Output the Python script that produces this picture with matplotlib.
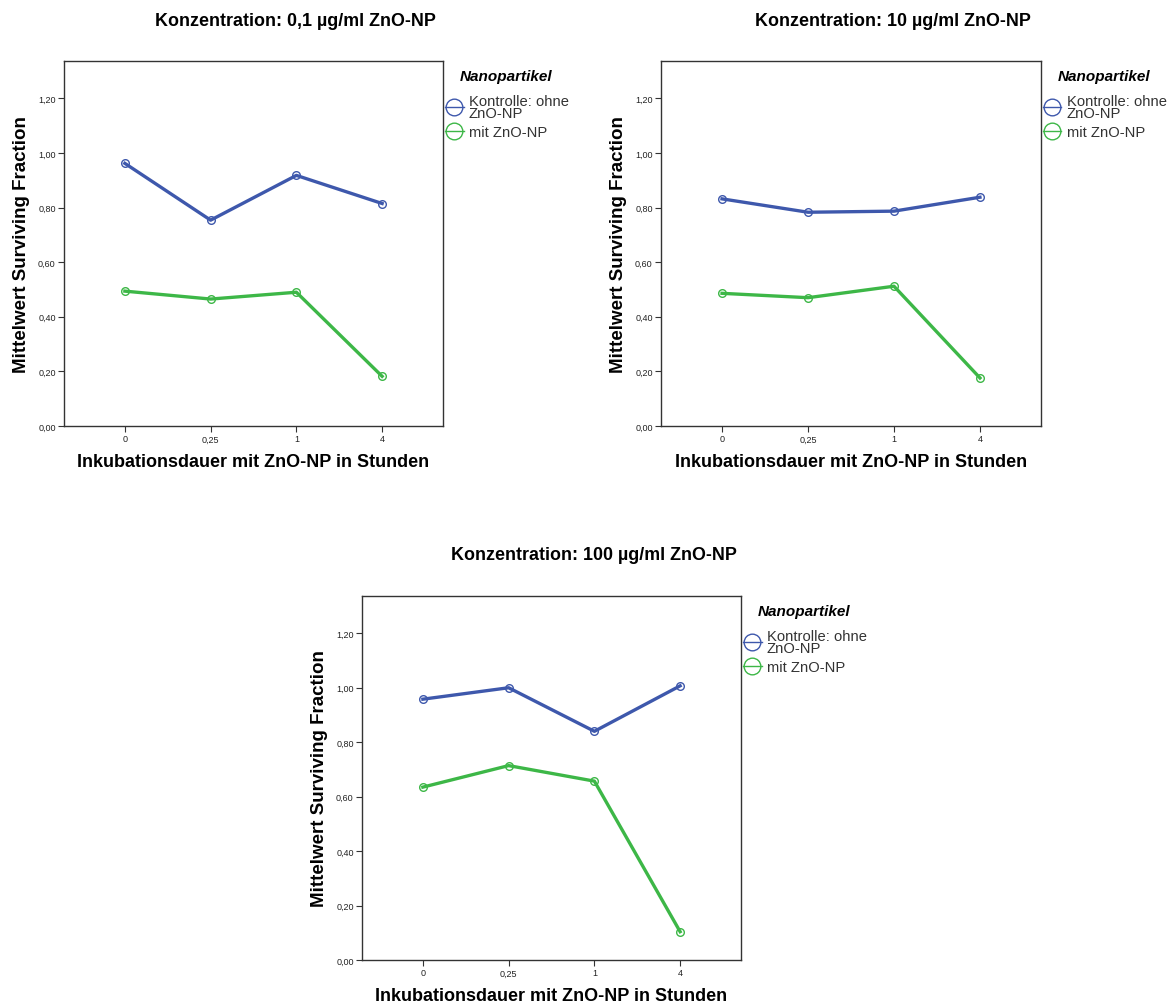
import numpy as np
import matplotlib
matplotlib.use("Agg")
import matplotlib.pyplot as plt
from matplotlib.lines import Line2D

plt.rcParams['font.family'] = ['Liberation Sans', 'DejaVu Sans']

# data
hours = ['0', '0,25', '1', '4']
titles = ['Konzentration: 0,1 µg/ml ZnO-NP',
          'Konzentration: 10 µg/ml ZnO-NP',
          'Konzentration: 100 µg/ml ZnO-NP']
kontrolle = [[0.962, 0.754, 0.918, 0.815],
             [0.832, 0.783, 0.787, 0.838],
             [0.958, 1.000, 0.840, 1.007]]
mit_zno = [[0.494, 0.465, 0.490, 0.182],
           [0.486, 0.470, 0.512, 0.176],
           [0.635, 0.714, 0.657, 0.104]]
series_names = ['Kontrolle: ohne\nZnO-NP', 'mit ZnO-NP']
yticks = [0.0, 0.2, 0.4, 0.6, 0.8, 1.0, 1.2]

W, H = 1168, 1004
BLUE = '#3E58AC'
GREEN = '#3DB747'

fig = plt.figure(figsize=(W / 100, H / 100), dpi=100)

# axes boxes in pixels: left, top, right, bottom
boxes = [(64, 62, 443, 427), (661, 62, 1041, 427), (362, 597, 741, 961)]


def panel(i):
    l, t, r, b = boxes[i]
    ax = fig.add_axes([l / W, 1 - b / H, (r - l) / W, (b - t) / H])
    x = np.arange(len(hours))
    for vals, col in [(kontrolle[i], BLUE), (mit_zno[i], GREEN)]:
        ax.plot(x, vals, color=col, lw=2.4, marker='o', ms=5.5,
                mfc='none', mec=col, mew=1.0)
    ax.set_xlim(-0.71, 3.71)
    ax.set_ylim(0, 1.337)
    ax.set_xticks(x)
    ax.set_xticklabels(hours, fontsize=6.5)
    ax.set_yticks(yticks)
    ax.set_yticklabels([('%.2f' % v).replace('.', ',') for v in yticks],
                       fontsize=6.5)
    ax.tick_params(direction='out', length=4, width=0.8, color='#333333',
                   pad=2, labelcolor='#222222')
    for s in ax.spines.values():
        s.set_color('#333333')
        s.set_linewidth(1.0)
    ax.set_ylabel('Mittelwert Surviving Fraction', fontsize=13.5,
                  fontweight='bold', labelpad=6)
    ax.set_xlabel('Inkubationsdauer mit ZnO-NP in Stunden', fontsize=13,
                  fontweight='bold', labelpad=7)
    # title centred over axes + legend
    fig.text((l + r) / 2 / W + 42 / W, 1 - (t - 41) / H, titles[i],
             ha='center', va='center', fontsize=12.9, fontweight='bold')
    handles = [Line2D([], [], color=BLUE, lw=1.0, marker='o', ms=12,
                      mfc='none', mec=BLUE, mew=1.0),
               Line2D([], [], color=GREEN, lw=1.0, marker='o', ms=12,
                      mfc='none', mec=GREEN, mew=1.0)]
    leg = ax.legend(handles, series_names, title='Nanopartikel',
                    loc='upper left', bbox_to_anchor=(0.99, 0.995),
                    frameon=False, fontsize=10.6, handlelength=1.25,
                    handletextpad=0.35, labelspacing=0.35, borderaxespad=0,
                    alignment='left',
                    title_fontproperties={'weight': 'bold', 'style': 'italic',
                                          'size': 11.0})
    leg._legend_box.sep = 8
    leg.get_title().set_position((15, 0))
    for txt in leg.get_texts():
        txt.set_color('#333333')
        txt.set_linespacing(0.8)
    return ax


for i in range(3):
    panel(i)

fig.savefig('out.png', dpi=100)
